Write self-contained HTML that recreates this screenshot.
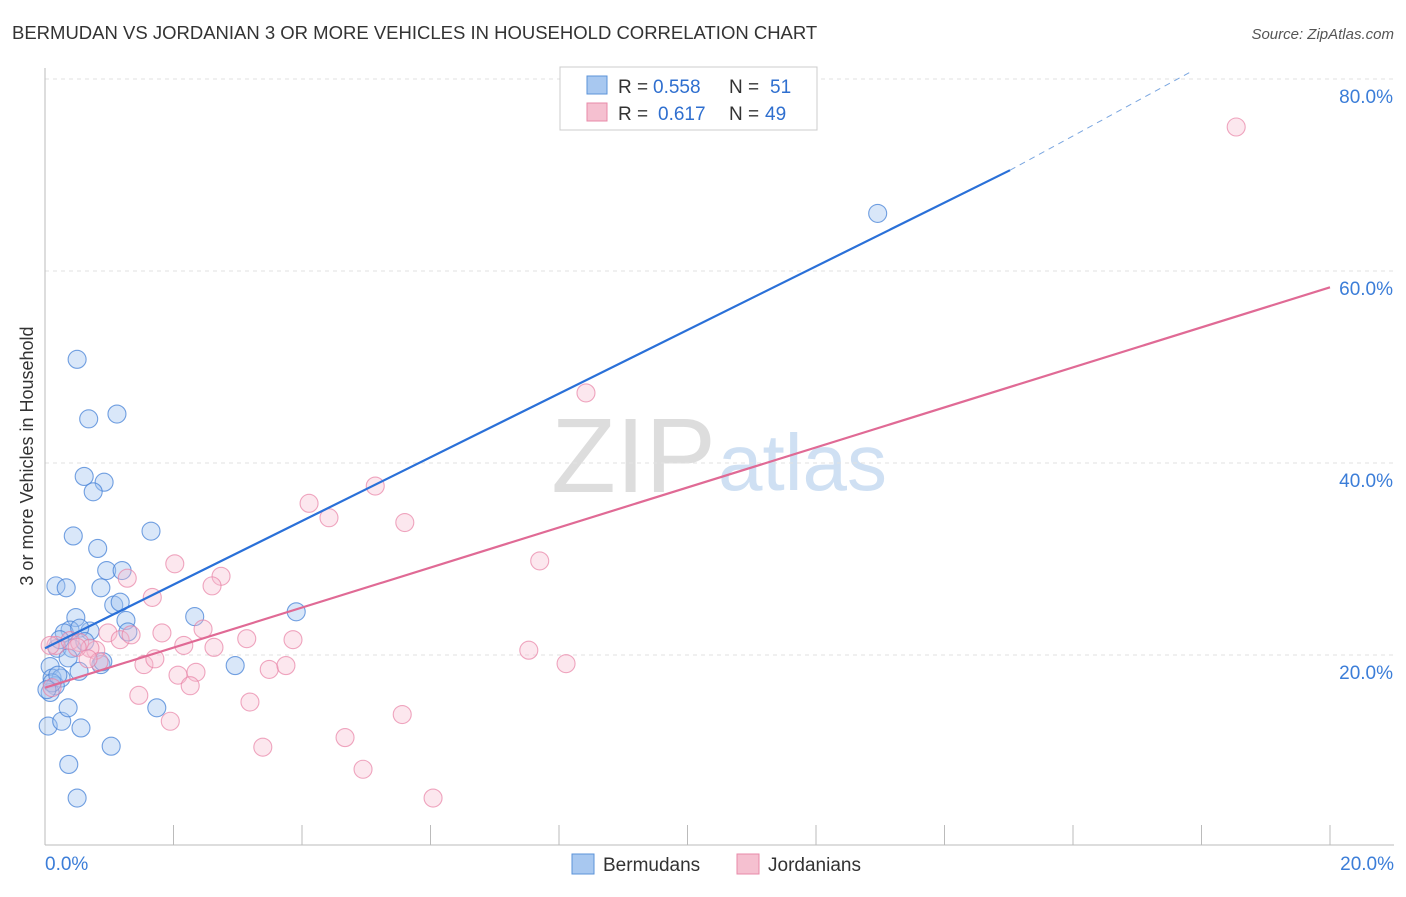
<!DOCTYPE html>
<html><head><meta charset="utf-8"><style>
body{margin:0;background:#fff;font-family:"Liberation Sans",sans-serif}
svg text{font-family:"Liberation Sans",sans-serif}
</style></head><body>
<svg width="1406" height="892" id="c">
<text x="12" y="39" font-size="18.5" fill="#333">BERMUDAN VS JORDANIAN 3 OR MORE VEHICLES IN HOUSEHOLD CORRELATION CHART</text>
<text x="1394" y="39" font-size="15" fill="#555" text-anchor="end" font-style="italic">Source: ZipAtlas.com</text>
<text x="716" y="492" font-size="106" fill="#ddd" text-anchor="end" font-family="Liberation Serif">ZIP</text>
<text x="718" y="490" font-size="80" fill="#cfe0f3">atlas</text>
<text transform="translate(33,456) rotate(-90)" font-size="18" fill="#333" text-anchor="middle">3 or more Vehicles in Household</text>
<g id="grid"></g><g id="pts"></g><g id="lines"></g>
<g>
<rect x="560" y="67" width="257" height="63" fill="#fff" stroke="#ccc"/>
<rect x="587" y="76" width="20" height="18" fill="#a8c8f0" stroke="#5b93d9"/>
<rect x="587" y="103" width="20" height="18" fill="#f5c0d0" stroke="#e88aa8"/>
<text x="618" y="93" font-size="19" fill="#333">R =</text>
<text x="653" y="93" font-size="19" fill="#2f6fcf">0.558</text>
<text x="729" y="93" font-size="19" fill="#333">N =</text>
<text x="770" y="93" font-size="19" fill="#2f6fcf">51</text>
<text x="618" y="120" font-size="19" fill="#333">R =</text>
<text x="658" y="120" font-size="19" fill="#2f6fcf">0.617</text>
<text x="729" y="120" font-size="19" fill="#333">N =</text>
<text x="765" y="120" font-size="19" fill="#2f6fcf">49</text>
</g>
<g>
<rect x="572" y="854" width="22" height="20" fill="#a8c8f0" stroke="#5b93d9"/>
<text x="603" y="871" font-size="19" fill="#333">Bermudans</text>
<rect x="737" y="854" width="22" height="20" fill="#f5c0d0" stroke="#e88aa8"/>
<text x="768" y="871" font-size="19" fill="#333">Jordanians</text>
</g>
</svg>
<script>
const xTicks=[0,2,4,6,8,10,12,14,16,18,20];
const yTicks=[20,40,60,80];
const yTickLabels=["20.0%","40.0%","60.0%","80.0%"];
const xEndLabels=["0.0%","20.0%"];
const blueX=[0.50,0.68,1.12,0.61,0.92,0.75,1.65,0.44,0.82,0.17,0.33,0.96,1.20,0.87,1.07,1.17,0.48,1.26,2.33,3.91,0.39,0.30,0.70,1.29,0.54,0.19,0.42,0.36,0.08,0.53,0.87,0.11,0.25,0.16,0.08,2.96,0.05,0.26,0.36,0.56,1.74,1.03,0.37,0.50,12.96,0.11,0.20,0.03,0.23,0.62,0.90];
const blueY=[50.8,44.6,45.1,38.6,38.0,37.0,32.9,32.4,31.1,27.2,27.0,28.8,28.8,27.0,25.2,25.5,23.9,23.6,24.0,24.5,22.6,22.3,22.5,22.4,22.8,20.7,20.7,19.7,18.8,18.3,19.0,17.6,17.6,16.8,16.1,18.9,12.6,13.1,14.5,12.4,14.5,10.5,8.6,5.1,66.0,17.1,17.9,16.4,21.6,21.4,19.3];
const pinkX=[18.54,8.42,5.14,4.11,4.42,5.60,7.70,2.02,2.74,1.28,2.60,1.67,0.98,1.17,1.34,1.82,2.46,2.16,2.63,3.14,3.86,0.17,0.39,0.54,0.79,0.70,0.84,1.54,1.71,2.07,2.35,2.26,3.49,3.75,7.53,8.11,1.46,3.19,1.95,5.56,3.39,4.67,4.95,6.04,0.08,0.50,0.11,0.67];
const pinkY=[75.0,47.3,37.6,35.8,34.3,33.8,29.8,29.5,28.2,28.0,27.2,26.0,22.3,21.6,22.1,22.3,22.7,21.0,20.8,21.7,21.6,21.0,21.5,21.3,20.5,20.7,19.3,19.0,19.6,17.9,18.2,16.8,18.5,18.9,20.5,19.1,15.8,15.1,13.1,13.8,10.4,11.4,8.1,5.1,21.0,20.8,16.6,19.6];
const blueLine=[[0,20.7],[15.02,70.5]];
const blueDash=[[15.02,70.5],[17.82,80.7]];
const pinkLine=[[0,16.6],[20,58.3]];
const X=v=>45+v*64.25, Y=v=>847-v*9.6;
const NS="http://www.w3.org/2000/svg";
function mk(t,a,p){const e=document.createElementNS(NS,t);for(const k in a)e.setAttribute(k,a[k]);p.appendChild(e);return e;}
const grid=document.getElementById('grid');
yTicks.forEach((v,i)=>{
 const l=mk('line',{x1:45,x2:1394,y1:Y(v),y2:Y(v),stroke:'#e2e2e2','stroke-dasharray':'4,4'},grid);
 
 
 const t=mk('text',{x:1393,y:Y(v)+24,'font-size':19,fill:'#3b7dd8','text-anchor':'end'},grid);t.textContent=yTickLabels[i];
 
 
});
const topLine=mk('line',{x1:45,x2:1394,y1:79,y2:79,stroke:'#e2e2e2','stroke-dasharray':'4,4'},grid);


const ya=mk('line',{x1:45,x2:45,y1:68,y2:845,stroke:'#bbb'},grid);


const xa=mk('line',{x1:45,x2:1394,y1:845,y2:845,stroke:'#bbb'},grid);


xTicks.forEach(v=>{const l=mk('line',{x1:X(v),x2:X(v),y1:825,y2:845,stroke:'#bbb'},grid);
 
 });
[[0,'start',45],[20,'end',1394]].forEach((d,i)=>{const t=mk('text',{x:d[2],y:870,'font-size':19,fill:'#3b7dd8','text-anchor':d[1]},grid);t.textContent=xEndLabels[i];
 
 });
const pts=document.getElementById('pts');
blueX.forEach((x,i)=>{const c=mk('circle',{cx:X(x),cy:Y(blueY[i]),r:9,fill:'rgba(160,196,240,0.4)',stroke:'rgba(70,130,215,0.75)','stroke-width':1.1},pts);
 
 });
pinkX.forEach((x,i)=>{const c=mk('circle',{cx:X(x),cy:Y(pinkY[i]),r:9,fill:'rgba(245,185,205,0.35)',stroke:'rgba(232,130,165,0.7)','stroke-width':1.1},pts);
 
 });
const lines=document.getElementById('lines');
function ln(d,col,dash,name){const l=mk('line',{x1:X(d[0][0]),y1:Y(d[0][1]),x2:X(d[1][0]),y2:Y(d[1][1]),stroke:col,'stroke-width':dash?1:2.2},lines);if(dash)l.setAttribute('stroke-dasharray','6,5');
 
 }
ln(blueLine,'#2a70d8',false,'bermudan-trend-line');
ln(blueDash,'#7aa6e0',true,'bermudan-trend-extension');
ln(pinkLine,'#e06a95',false,'jordanian-trend-line');
</script>
</body></html>
